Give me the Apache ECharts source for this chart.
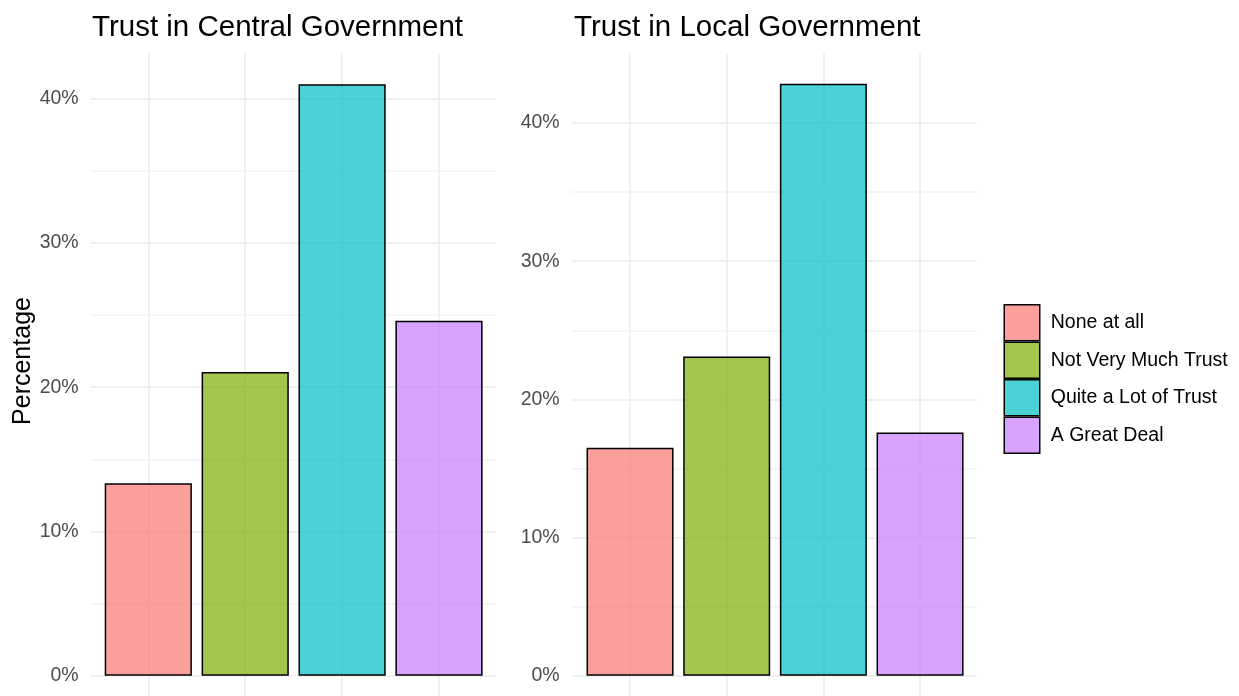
<!DOCTYPE html>
<html><head><meta charset="utf-8">
<script src="https://cdn.jsdelivr.net/npm/echarts@6/dist/echarts.min.js"></script>
<style>html,body{margin:0;padding:0;background:#fff}#c{width:1239px;height:696px}</style>
</head><body><div id="c"></div>
<script>
// ---- data ----
const categories = ['None at all', 'Not Very Much Trust', 'Quite a Lot of Trust', 'A Great Deal'];
const centralValues = [13.35, 21.05, 41.0, 24.6];
const localValues = [16.5, 23.1, 42.85, 17.6];
const panelTitles = ['Trust in Central Government', 'Trust in Local Government'];
const yAxisTitle = 'Percentage';
const yTickStep = 5;        // grid step (labels every 10)
const yLabelStep = 10;

// ---- styling ----
const FONT = "'Liberation Sans', Arial, sans-serif";
const fills = ['rgba(248,118,109,0.7)', 'rgba(124,174,0,0.7)', 'rgba(0,191,196,0.7)', 'rgba(199,124,255,0.7)'];
const MAJ = '#EBEBEB', MIN = '#F3F3F3', NONE = 'rgba(0,0,0,0)';
const lineColors = [MAJ, MIN, MAJ, MIN, MAJ, MIN, MAJ, MIN, MAJ, NONE, NONE, NONE];

const panels = [
  { values: centralValues, title: panelTitles[0], yMax: 43.15,
    hLeft: 90.7, hWidth: 405, bLeft: 99.85, bWidth: 387.6, vLeft: 148.3, vWidth: 290.7, titleLeft: 92 },
  { values: localValues, title: panelTitles[1], yMax: 45.05,
    hLeft: 571.7, hWidth: 405, bLeft: 581.7, bWidth: 386.7, vLeft: 630, vWidth: 290, titleLeft: 574 }
];
const TOP = 53.3, H = 622.4;

const grid = [], xAxis = [], yAxis = [], series = [], title = [];
panels.forEach((p, pi) => {
  const g0 = grid.length;
  // horizontal gridlines + tick labels
  grid.push({ left: p.hLeft, top: TOP, width: p.hWidth, height: H });
  xAxis.push({ gridIndex: g0, type: 'value', show: false });
  yAxis.push({ gridIndex: g0, type: 'value', min: 0, max: p.yMax, interval: yTickStep,
    axisLine: { show: false }, axisTick: { show: false },
    axisLabel: { margin: 12, color: '#4D4D4D', fontSize: 19.5, fontFamily: FONT,
      showMaxLabel: false,
      formatter: v => (Math.abs(v % yLabelStep) < 1e-6 ? v + '%' : '') },
    splitLine: { show: true, lineStyle: { color: lineColors, width: 1.5 } } });
  // vertical gridlines at category centres
  grid.push({ left: p.vLeft, top: TOP, width: p.vWidth, height: 696 - TOP });
  xAxis.push({ gridIndex: g0 + 1, type: 'category', data: categories, boundaryGap: false,
    axisLine: { show: false }, axisTick: { show: false }, axisLabel: { show: false },
    splitLine: { show: true, interval: 0, lineStyle: { color: MAJ, width: 1.5 } } });
  yAxis.push({ gridIndex: g0 + 1, type: 'value', min: 0, max: 1, show: false });
  // bars
  grid.push({ left: p.bLeft, top: TOP, width: p.bWidth, height: H });
  xAxis.push({ gridIndex: g0 + 2, type: 'category', data: categories,
    axisLine: { show: false }, axisTick: { show: false }, axisLabel: { show: false }, splitLine: { show: false } });
  yAxis.push({ gridIndex: g0 + 2, type: 'value', min: 0, max: p.yMax, show: false });
  categories.forEach((c, i) => {
    series.push({ type: 'bar', name: c, xAxisIndex: g0 + 2, yAxisIndex: g0 + 2,
      data: p.values.map((v, j) => (j === i ? v : '-')),
      barWidth: '90%', barGap: '-100%', z: 3,
      itemStyle: { color: fills[i], borderColor: '#000', borderWidth: 1.5 },
      emphasis: { disabled: true } });
  });
  title.push({ text: p.title, left: p.titleLeft, top: 13, padding: 0,
    textStyle: { fontSize: 29.5, fontWeight: 'normal', color: '#000', fontFamily: FONT } });
});

const chart = echarts.init(document.getElementById('c'), null, { renderer: 'canvas' });
chart.setOption({
  backgroundColor: '#fff',
  animation: false,
  title, grid, xAxis, yAxis, series,
  legend: {
    data: categories, orient: 'vertical', left: 1003.5, top: 304, padding: 0,
    itemWidth: 35.5, itemHeight: 36, itemGap: 0, icon: 'rect', selectedMode: false,
    itemStyle: { borderColor: '#000', borderWidth: 1.5 },
    textStyle: { fontSize: 19.5, color: '#000', fontFamily: FONT, padding: [0, 0, 0, 6] }
  },
  graphic: [{ type: 'text', x: 22.7, y: 361, rotation: Math.PI / 2,
    style: { text: yAxisTitle, fontSize: 25, fill: '#000', font: '25px ' + FONT,
      textAlign: 'center', textVerticalAlign: 'middle' } }]
});
</script></body></html>
